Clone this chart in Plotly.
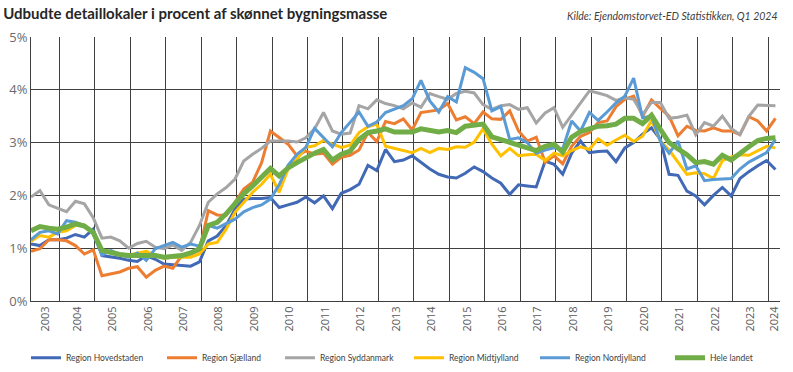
import plotly.graph_objects as go
import pandas as pd

# Quarterly observations 2003 Q1 - 2024 Q1
years = list(range(2003, 2025))
quarters = [(y, q) for y in years for q in range(1, 5)][:85]
dates = [f"{y}-{3*q:02d}-15" for (y, q) in quarters]

hovedstaden = [1.08, 1.05, 1.16, 1.16, 1.19, 1.26, 1.21, 1.36, 0.86, 0.84, 0.81, 0.77, 0.75, 0.86, 0.79,
               0.70, 0.69, 0.67, 0.66, 0.74, 1.14, 1.23, 1.43, 1.74, 1.93, 1.94, 1.94, 1.96, 1.77, 1.82,
               1.87, 1.97, 1.86, 1.99, 1.75, 2.04, 2.11, 2.21, 2.57, 2.47, 2.87, 2.64, 2.67, 2.75, 2.62,
               2.50, 2.40, 2.35, 2.33, 2.42, 2.54, 2.45, 2.33, 2.23, 2.02, 2.20, 2.18,
               2.16, 2.65, 2.59, 2.40, 2.80, 3.03, 2.81, 2.83, 2.84, 2.64, 2.90, 3.00, 3.16, 3.28,
               3.06, 2.40, 2.38, 2.08, 1.99, 1.82, 2.00, 2.15, 1.99, 2.32, 2.45, 2.56, 2.66, 2.49]
sjaelland = [0.94, 0.99, 1.16, 1.16, 1.14, 1.05, 0.89, 0.97, 0.48, 0.52, 0.55, 0.62, 0.65, 0.45, 0.58,
             0.66, 0.62, 0.86, 0.89, 0.96, 1.71, 1.63, 1.62, 1.87, 2.12, 2.25, 2.62, 3.22, 3.09, 2.97,
             2.75, 2.84, 2.78, 2.80, 2.59, 2.72, 2.76, 2.86, 3.19, 3.02, 3.40, 3.36, 3.45, 3.24, 3.57,
             3.60, 3.62, 3.74, 3.43, 3.49, 3.36, 3.58, 3.45, 3.44, 3.60, 3.22, 3.03,
             3.10, 2.63, 2.75, 2.60, 2.93, 3.12, 3.19, 3.38, 3.41, 3.68, 3.82, 3.88, 3.50, 3.81,
             3.65, 3.50, 3.13, 3.31, 3.23, 3.22, 3.28, 3.22, 3.22, 3.15, 3.49, 3.41, 3.22, 3.46]
syddanmark = [1.97, 2.09, 1.82, 1.76, 1.69, 1.89, 1.84, 1.58, 1.19, 1.21, 1.14, 1.00, 1.09, 1.13, 1.02,
              0.99, 1.06, 0.96, 1.11, 1.43, 1.87, 2.03, 2.15, 2.31, 2.65, 2.78, 2.89, 3.03, 3.03, 3.03,
              3.01, 3.09, 3.26, 3.57, 3.22, 3.16, 3.18, 3.70, 3.64, 3.81, 3.74, 3.70, 3.64, 3.75, 3.67,
              3.93, 3.87, 3.82, 3.93, 3.97, 3.94, 3.72, 3.63, 3.70, 3.72, 3.63, 3.66,
              3.37, 3.56, 3.66, 3.29, 3.52, 3.74, 3.98, 3.94, 3.89, 3.80, 3.85, 3.82, 3.53, 3.76,
              3.76, 3.46, 3.48, 3.52, 3.15, 3.38, 3.31, 3.50, 3.27, 3.15, 3.50, 3.71, 3.70, 3.70]
midtjylland = [1.13, 1.24, 1.21, 1.30, 1.33, 1.43, 1.44, 1.30, 0.96, 0.92, 0.89, 0.87, 0.91, 0.94, 0.86,
               0.81, 0.83, 0.83, 0.83, 0.89, 1.08, 1.11, 1.36, 1.68, 1.87, 2.06, 2.21, 2.40, 2.06, 2.50,
               2.69, 2.91, 2.94, 3.04, 2.97, 2.91, 2.95, 3.19, 3.30, 3.35, 2.93, 2.89, 2.86, 2.81, 2.89,
               2.81, 2.89, 2.87, 2.92, 2.91, 3.01, 3.26, 2.97, 2.75, 2.89, 2.75, 2.77,
               2.78, 2.66, 2.80, 2.75, 2.85, 2.92, 2.87, 3.07, 2.95, 3.05, 3.14, 3.02, 3.12, 3.42,
               3.03, 2.86, 2.64, 2.40, 2.43, 2.41, 2.32, 2.66, 2.73, 2.77, 2.76, 2.84, 2.93, 2.90]
nordjylland = [1.16, 1.30, 1.33, 1.27, 1.52, 1.49, 1.43, 1.27, 0.87, 0.96, 0.88, 0.83, 0.91, 0.77, 0.99,
               1.05, 1.11, 1.02, 1.08, 1.04, 1.43, 1.38, 1.46, 1.55, 1.69, 1.77, 1.82, 1.93, 2.20, 2.57,
               2.78, 2.91, 3.27, 3.09, 2.92, 3.19, 3.39, 3.58, 3.31, 3.39, 3.57, 3.63, 3.70, 3.83, 4.18,
               3.79, 3.58, 3.87, 3.77, 4.42, 4.33, 4.21, 3.60, 3.68, 3.06, 3.09, 3.00,
               2.80, 2.86, 2.90, 2.88, 3.41, 3.22, 3.57, 3.42, 3.58, 3.75, 3.88, 4.22, 3.47, 3.50,
               3.03, 2.80, 3.03, 2.50, 2.56, 2.28, 2.30, 2.31, 2.32, 2.50, 2.63, 2.72, 2.81, 3.06]
hele_landet = [1.33, 1.41, 1.38, 1.36, 1.40, 1.46, 1.42, 1.30, 0.96, 0.91, 0.88, 0.86, 0.86, 0.87, 0.86,
               0.83, 0.84, 0.86, 0.91, 0.99, 1.43, 1.49, 1.65, 1.84, 2.03, 2.18, 2.34, 2.51, 2.37, 2.52,
               2.62, 2.72, 2.80, 2.87, 2.67, 2.78, 2.84, 3.06, 3.19, 3.22, 3.26, 3.20, 3.21, 3.20, 3.26,
               3.24, 3.20, 3.23, 3.19, 3.31, 3.33, 3.35, 3.11, 3.06, 3.00, 2.94, 2.89,
               2.85, 2.93, 2.97, 2.82, 3.10, 3.21, 3.27, 3.31, 3.32, 3.35, 3.46, 3.46, 3.36, 3.52,
               3.25, 3.00, 2.88, 2.77, 2.62, 2.64, 2.59, 2.76, 2.67, 2.78, 2.92, 3.04, 3.08, 3.09]

series = [
    ("Region Hovedstaden", hovedstaden, "#4169B5", 3),
    ("Region Sjælland", sjaelland, "#ED7D31", 3),
    ("Region Syddanmark", syddanmark, "#A5A5A5", 3),
    ("Region Midtjylland", midtjylland, "#FFC000", 3),
    ("Region Nordjylland", nordjylland, "#5B9BD5", 3),
    ("Hele landet", hele_landet, "#70AD47", 5),
]
# horizontal placement of each legend entry (fraction of plot width)
legend_x = [-0.0067, 0.1749, 0.3324, 0.5047, 0.6729, 0.8531]

x_start, x_end = "2003-03-15", "2024-05-01"

fig = go.Figure()
for k, (name, vals, color, w) in enumerate(series):
    lg = "legend" if k == 0 else f"legend{k+1}"
    fig.add_trace(go.Scatter(x=dates, y=[v / 100 for v in vals], name=name, mode="lines",
                             line=dict(color=color, width=w), legend=lg))

legend_layouts = {}
for k, lx in enumerate(legend_x):
    lg = "legend" if k == 0 else f"legend{k+1}"
    legend_layouts[lg] = dict(orientation="h", x=lx, xanchor="left", y=-0.215, yanchor="middle",
                              font=dict(family="Lato, sans-serif", size=8.5, color="#404040"),
                              itemwidth=30, bgcolor="rgba(0,0,0,0)")

# year label positions: centre of the visible part of each year
rs, re_ = pd.Timestamp(x_start), pd.Timestamp(x_end)
label_pos = []
for y in years:
    a = max(pd.Timestamp(f"{y}-01-01"), rs)
    b = min(pd.Timestamp(f"{y+1}-01-01"), re_)
    label_pos.append((a + (b - a) / 2).strftime("%Y-%m-%d %H:%M"))

grid_col = "#404040"
fig.update_layout(
    width=793, height=372,
    margin=dict(l=31, r=13, t=37, b=71, autoexpand=False),
    paper_bgcolor="white", plot_bgcolor="white",
    font=dict(family="Lato, sans-serif", color="#595959"),
    title=dict(text="Udbudte detaillokaler i procent af skønnet bygningsmasse",
               x=0.004, xanchor="left", y=0.962, yanchor="middle",
               font=dict(family="Lato, sans-serif", size=15, color="#262626", weight="bold")),
    showlegend=True,
    xaxis=dict(type="date", range=[x_start, x_end], automargin=False,
               tickmode="array", tickvals=label_pos, ticktext=[str(y) for y in years],
               tickangle=-90, showgrid=False, ticks="",
               tickfont=dict(family="Open Sans, sans-serif", size=11, color="#595959"),
               showline=True, linecolor=grid_col, linewidth=1,
               minor=dict(tickvals=[f"{y}-01-01" for y in years[1:]], showgrid=True,
                          gridcolor=grid_col, gridwidth=1, ticks=""),
               zeroline=False, fixedrange=True),
    yaxis=dict(range=[0, 0.05], dtick=0.01, tickformat=".0%", automargin=False,
               showgrid=True, gridcolor=grid_col, gridwidth=1,
               showline=True, linecolor=grid_col, linewidth=1,
               tickfont=dict(family="Open Sans, sans-serif", size=13, color="#6b6b6b"),
               zeroline=False, ticks="", fixedrange=True),
    annotations=[dict(text="<i>Kilde: Ejendomstorvet-ED Statistikken, Q1 2024</i>",
                      xref="paper", yref="paper", x=1.0, xanchor="right",
                      y=1.0, yshift=21, yanchor="middle", showarrow=False,
                      font=dict(family="Lato, sans-serif", size=10.5, color="#404040"))],
    **legend_layouts,
)

fig.write_html("out.html", config={"displayModeBar": False},
               post_script="document.body.style.margin='0px';document.body.style.overflow='hidden';")
